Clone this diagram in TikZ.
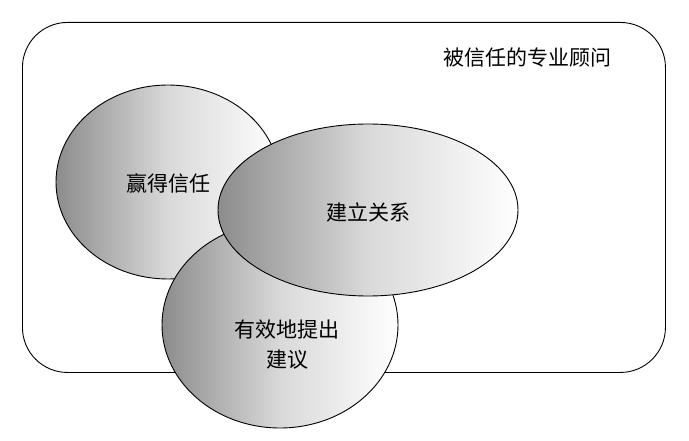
\documentclass[tikz,border=0pt]{standalone}
\usepackage{fontspec}
\newfontfamily\cjk{Noto Sans CJK SC}
\begin{document}
\begin{tikzpicture}[x=1pt,y=-1pt,
  blob/.style={draw=black,line width=0.9pt,left color=black!45,right color=white,middle color=black!15},
  lbl/.style={font=\cjk\fontsize{21}{30}\selectfont,align=center}]
\useasboundingbox (0,0) rectangle (689,441);
\node[draw,line width=0.9pt,rounded corners=45pt,minimum width=643pt,minimum height=350pt,anchor=north west] (frame) at (22,22) {};
\node[lbl,anchor=north west] (title) at (440,44) {被信任的专业顾问};
\shade[blob] (168,182) ellipse [x radius=112, y radius=97];
\node[lbl] (a) at (168,183) {赢得信任};
\shade[blob] (280,325) ellipse [x radius=118, y radius=103];
\node[lbl] (c) at (287,345) {有效地提出\\建议};
\shade[blob] (368,210) ellipse [x radius=150, y radius=86];
\node[lbl] (b) at (368,212) {建立关系};
\end{tikzpicture}
\end{document}
